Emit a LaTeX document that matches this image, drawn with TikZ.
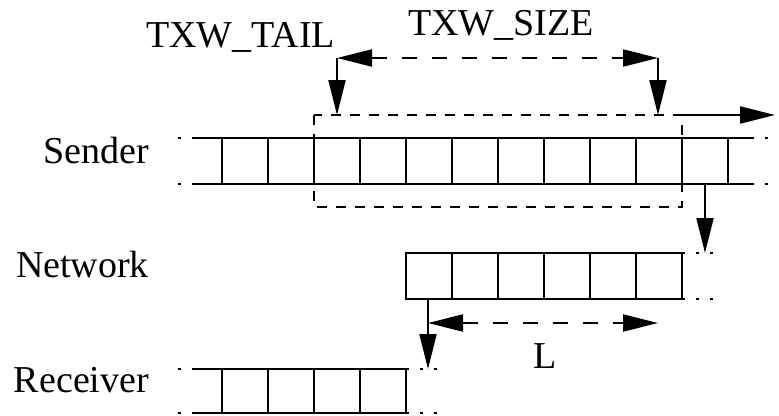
\documentclass[tikz,border=0pt]{standalone}
\usepackage{fontspec}
\setmainfont{Liberation Serif}
\usetikzlibrary{arrows.meta}

\begin{document}
\begin{tikzpicture}[x=1pt,y=-1pt,
  line width=2pt,
  lbl/.style={font=\fontsize{38}{45}\selectfont, inner sep=0pt},
  tip/.style={-{Triangle[length=35pt,width=17pt]}},
  tips/.style={{Triangle[length=35pt,width=17pt]}-{Triangle[length=35pt,width=17pt]}},
  winline/.style={dash pattern=on 10pt off 9pt},
  spanline/.style={dash pattern=on 15pt off 15pt},
  tailline/.style={dash pattern=on 3pt off 11pt},
]
\useasboundingbox (0,0) rectangle (779,415);

% ---- labels
\node[lbl, anchor=base east] (snd) at (150,163) {Sender};
\node[lbl, anchor=base east] (net) at (150,277) {Network};
\node[lbl, anchor=base east] (rcv) at (150,392) {Receiver};
\node[lbl, anchor=base west] (tailtxt) at (145,47) {TXW\_TAIL};
\node[lbl, anchor=base west] (sizetxt) at (407,35) {TXW\_SIZE};
\node[lbl, anchor=base west] (lentxt) at (532,368) {L};

% ---- sender buffer (open at both ends)
\draw (195,138) -- (751,138) (195,184) -- (751,184);
\foreach \x in {222,268,...,728} \draw (\x,138) -- (\x,184);
\draw[tailline] (178,138) -- (195,138) (178,184) -- (195,184);
\draw[tailline] (751,138) -- (778,138) (751,184) -- (778,184);

% ---- network buffer
\draw (406,253) rectangle (682,299);
\foreach \x in {452,498,...,636} \draw (\x,253) -- (\x,299);
\draw[tailline] (682,253) -- (722,253) (682,299) -- (722,299);

% ---- receiver buffer
\draw (195,369) -- (406,369) -- (406,413) -- (195,413);
\foreach \x in {222,268,314,360} \draw (\x,369) -- (\x,413);
\draw[tailline] (178,369) -- (195,369) (178,413) -- (195,413);
\draw[tailline] (406,369) -- (446,369) (406,413) -- (446,413);

% ---- transmit window
\coordinate (winTL) at (314,115);
\coordinate (winBR) at (682,207);
\draw[winline] (winTL) rectangle (winBR);

% ---- window size markers
\coordinate (sizeL) at (337,58);
\coordinate (sizeR) at (658,58);
\coordinate (sizeLdown) at (337,115);
\coordinate (sizeRdown) at (658,115);
\draw[tips, spanline] (sizeL) -- (sizeR);
\draw[tip] (sizeL) -- (sizeLdown);
\draw[tip] (sizeR) -- (sizeRdown);

% ---- window advance
\coordinate (advS) at (682,115);
\coordinate (advE) at (775,115);
\draw[tip] (advS) -- (advE);

% ---- sender to network
\coordinate (sendS) at (705,184);
\coordinate (sendE) at (705,253);
\draw[tip] (sendS) -- (sendE);

% ---- network to receiver, latency span
\coordinate (recvS) at (428,299);
\coordinate (recvE) at (428,369);
\coordinate (latL) at (428,323);
\coordinate (latR) at (658,323);
\draw[tip] (recvS) -- (recvE);
\draw[tips, spanline] (latL) -- (latR);
\end{tikzpicture}
\end{document}
